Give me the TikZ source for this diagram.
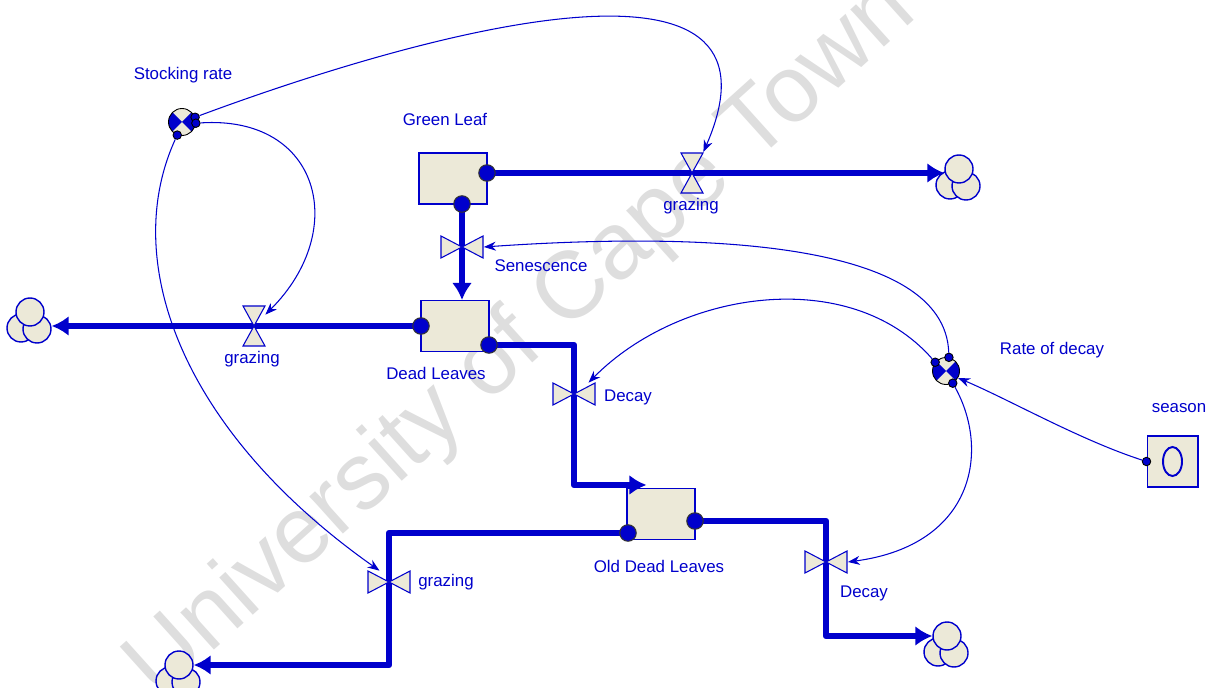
\documentclass[tikz,border=0pt]{standalone}
\usepackage{fontspec}
\setmainfont{Liberation Sans}
\usetikzlibrary{arrows.meta,positioning,calc}
\definecolor{flowblue}{RGB}{0,0,204}
\definecolor{stockfill}{RGB}{236,233,216}
\pgfdeclarelayer{bg}
\pgfsetlayers{bg,main}

\begin{document}
\begin{tikzpicture}[x=0.02cm, y=-0.02cm, >=Stealth,
  every node/.style={align=center, text=flowblue, font=\fontsize{9.6}{11}\selectfont},
  stock/.style={draw=flowblue, fill=stockfill, line width=0.6pt, minimum width=1.36cm, minimum height=1.02cm, inner sep=0pt},
  conv/.style={circle, draw=black, fill=stockfill, line width=0.5pt, minimum size=0.54cm, inner sep=0pt,
    path picture={\fill[flowblue] (path picture bounding box.center) -- (path picture bounding box.north west) -- (path picture bounding box.south west) -- cycle
      (path picture bounding box.center) -- (path picture bounding box.north east) -- (path picture bounding box.south east) -- cycle;}},
  valveline/.style={draw=flowblue, fill=stockfill, line width=0.6pt, line join=miter},
  valvev/.pic={\node[inner sep=0pt, minimum width=0.86cm, minimum height=0.44cm] (-v) at (0,0) {};
    \draw[valveline] (0,0) -- (-21,-11) -- (-21,11) -- cycle (0,0) -- (21,-11) -- (21,11) -- cycle;},
  valveh/.pic={\node[inner sep=0pt, minimum width=0.44cm, minimum height=0.82cm] (-v) at (0,0) {};
    \draw[valveline] (0,0) -- (-11,-20) -- (11,-20) -- cycle (0,0) -- (-11,20) -- (11,20) -- cycle;},
  fdot/.style={circle, draw=black!80, fill=flowblue, line width=0.6pt, minimum size=0.33cm, inner sep=0pt},
  cdot/.style={circle, draw=black, fill=flowblue, line width=0.5pt, minimum size=0.17cm, inner sep=0pt},
  puff/.style={circle, draw=flowblue, fill=stockfill, line width=0.8pt, minimum size=0.56cm, inner sep=0pt},
  cloud/.pic={\node[puff] (-l) at (-9,16) {}; \node[puff] (-r) at (7,17) {}; \node[puff] (-t) at (0,0) {};},
  flow/.style={draw=flowblue, line width=3.7pt, line join=round, -{Latex[length=0.34cm, width=0.4cm]}},
  conn/.style={draw=flowblue, line width=0.6pt, -{Stealth[length=0.24cm, width=0.18cm]}}]
  \useasboundingbox (0,0) rectangle (1222,688);

  \begin{pgfonlayer}{bg}
    \node[rotate=42, text=black!13, font=\fontsize{54}{60}\selectfont] (wm) at (522,340) {University of Cape Town};
    \node[stock] (gl) at (453,178.5) {};
    \node[stock] (dl) at (455,326) {};
    \node[stock] (odl) at (661,514) {};
    \node[stock, minimum width=1.02cm] (ss) at (1172.5,461.5) {};
    \draw[flowblue, line width=1.1pt] (ss.center) ellipse [x radius=0.19cm, y radius=0.29cm];
    \pic (clr) at (959,169) {cloud};
    \pic (cll) at (30,312) {cloud};
    \pic (clbl) at (179,665) {cloud};
    \pic (clbr) at (947,636) {cloud};
  \end{pgfonlayer}

  \node[fdot] (glo) at (487,173) {};
  \node[fdot] (glb) at (462,204) {};
  \node[fdot] (dli) at (421,326) {};
  \node[fdot] (dlo) at (489,345) {};
  \node[fdot] (odli) at (628,533) {};
  \node[fdot] (odlo) at (695,521) {};

  \pic (gz1) at (692,173) {valveh};
  \pic (sen) at (462,247) {valvev};
  \pic (gz2) at (254,326) {valveh};
  \pic (dc1) at (574,394) {valvev};
  \pic (gz3) at (389,582) {valvev};
  \pic (dc2) at (826,562) {valvev};

  \begin{pgfonlayer}{bg}
    \draw[flow] (glo.center) -- (glo -| clr-t.west);
    \draw[flow] (glb.center) -- (glb |- dl.north);
    \draw[flow] (dli.center) -- (dli -| cll-r.east);
    \draw[flow] (dlo.center) -| (dc1-v.center) |- ($(odl.north west)+(20,-3)$);
    \draw[flow] (odli.center) -| (gz3-v.center) |- (clbl-t.east);
    \draw[flow] (odlo.center) -| (dc2-v.center) |- (clbr-t.west);
  \end{pgfonlayer}

  \node[conv] (sr) at (182,122) {};
  \node[conv] (rd) at (946,371) {};
  \node[cdot] (sr1) at (sr.20) {};
  \node[cdot] (sr2) at (sr.-5) {};
  \node[cdot] (sr3) at (sr.-110) {};
  \node[cdot] (rd1) at (rd.78) {};
  \node[cdot] (rd2) at (rd.141) {};
  \node[cdot] (rd3) at (rd.-61) {};
  \node[cdot] (ssd) at (ss.west) {};

  \draw[conn] (sr1) .. controls (430,30) and (800,-70) .. (gz1-v.north east);
  \draw[conn] (sr2) .. controls (320,115) and (350,230) .. (gz2-v.45);
  \draw[conn] (sr3) .. controls (120,260) and (180,430) .. (gz3-v.130);
  \draw[conn] (rd1) .. controls (945,240) and (700,232) .. (sen-v.east);
  \draw[conn] (rd2) .. controls (850,265) and (680,290) .. (dc1-v.38);
  \draw[conn] (rd3) .. controls (990,450) and (975,545) .. (dc2-v.east);
  \draw[conn] (ssd) .. controls (1080,440) and (1010,400) .. (rd.-30);

  \node (srl) at (183,75) {Stocking rate};
  \node (gll) at (445,119) {Green Leaf};
  \node (gz1l) at (691,206) {grazing};
  \node (senl) at (541,266) {Senescence};
  \node (gz2l) at (252,359) {grazing};
  \node (dll) at (436,373) {Dead Leaves};
  \node (dc1l) at (628,397) {Decay};
  \node (rdl) at (1052,350) {Rate of decay};
  \node (ssl) at (1179,408) {season};
  \node (odll) at (659,566) {Old Dead Leaves};
  \node (gz3l) at (446,582) {grazing};
  \node (dc2l) at (864,593) {Decay};
\end{tikzpicture}
\end{document}
